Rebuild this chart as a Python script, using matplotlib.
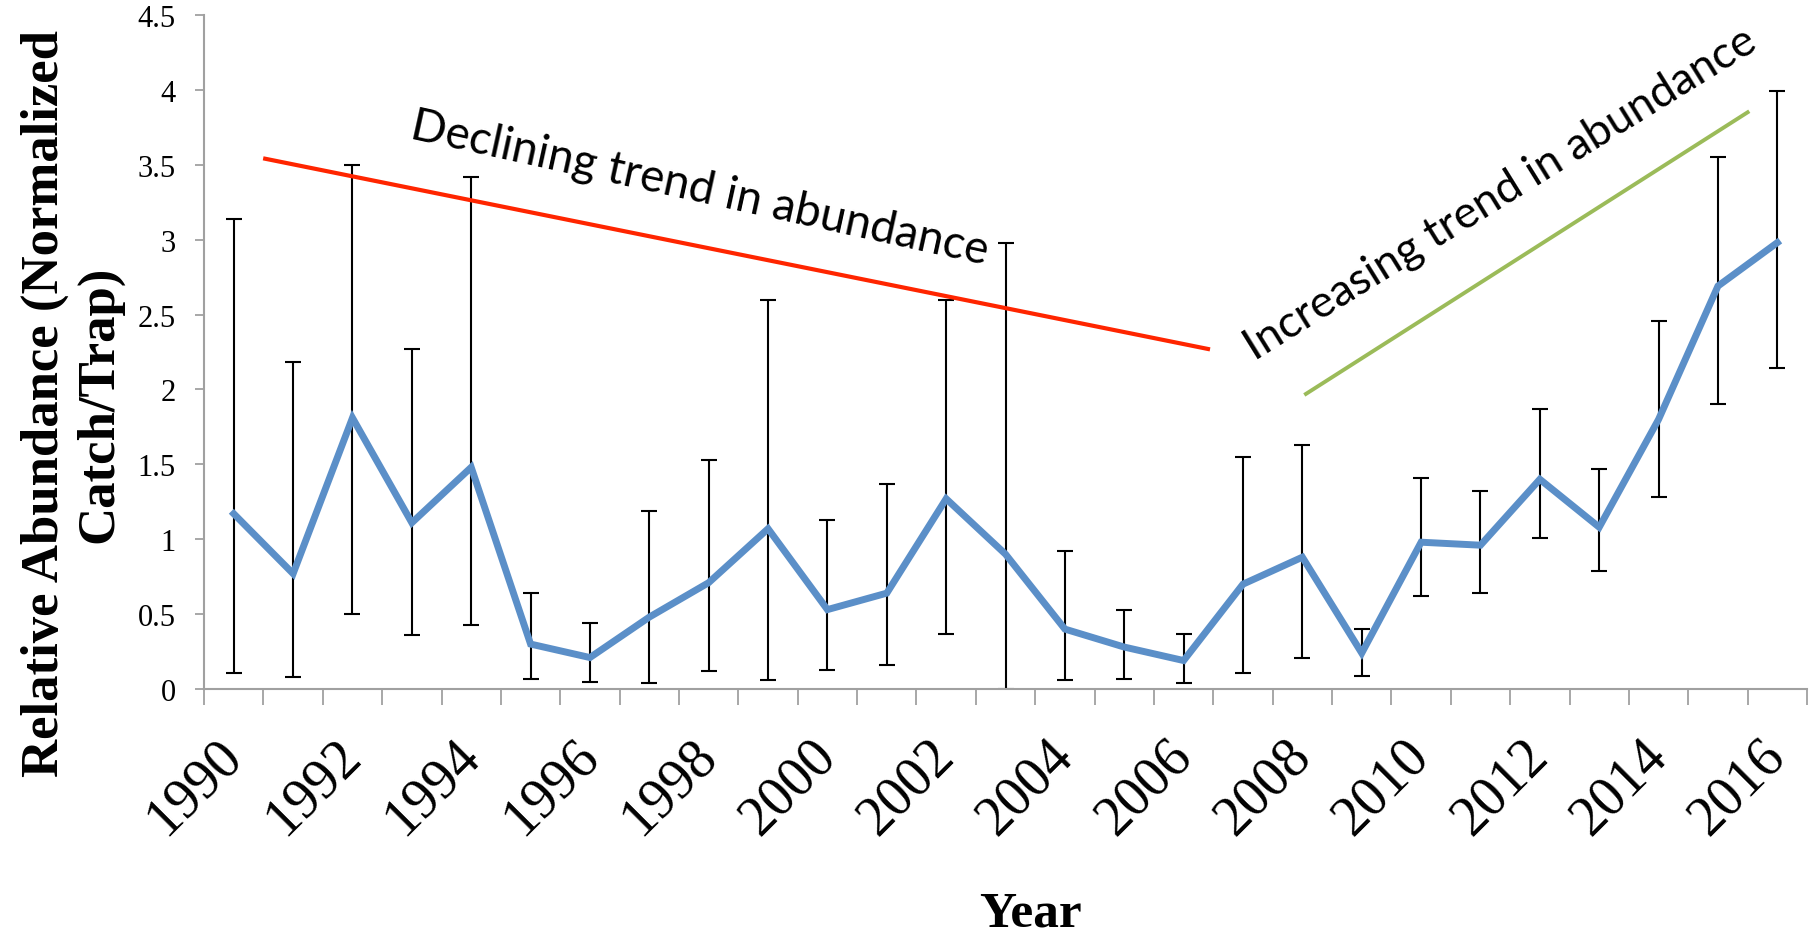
import numpy as np
import matplotlib
matplotlib.use("Agg")
from matplotlib import pyplot as plt
from matplotlib import transforms
from matplotlib.ticker import FixedLocator, FormatStrFormatter

# values
years = list(range(1990, 2017))
abundance = [1.17, 0.77, 1.81, 1.11, 1.48, 0.30, 0.21, 0.48, 0.71, 1.07,
             0.53, 0.64, 1.27, 0.90, 0.40, 0.28, 0.19, 0.70, 0.88, 0.24,
             0.98, 0.96, 1.40, 1.08, 1.80, 2.69, 2.98]
err_upper = [3.14, 2.18, 3.50, 2.27, 3.42, 0.64, 0.44, 1.19, 1.53, 2.60,
             1.13, 1.37, 2.60, 2.98, 0.92, 0.53, 0.37, 1.55, 1.63, 0.40,
             1.41, 1.32, 1.87, 1.47, 2.46, 3.55, 3.99]
err_lower = [0.11, 0.08, 0.50, 0.36, 0.43, 0.07, 0.05, 0.04, 0.12, 0.06,
             0.13, 0.16, 0.37, 0.00, 0.06, 0.07, 0.04, 0.11, 0.21, 0.09,
             0.62, 0.64, 1.01, 0.79, 1.28, 1.90, 2.14]
tick_years = years[::2]

# hand drawn trend lines (category index, value)
decline_x = [0.53, 16.41]
decline_y = [3.54, 2.27]
increase_x = [18.06, 25.5]
increase_y = [1.97, 3.85]

plt.rcParams['font.family'] = ['Liberation Serif', 'DejaVu Serif']

fig = plt.figure(figsize=(18.17, 9.37), dpi=100)
ax = fig.add_axes([0.1123, 0.2636, 0.8822, 0.7194])

x = np.arange(len(years))
mean = np.array(abundance)
yerr = [mean - np.array(err_lower), np.array(err_upper) - mean]

ax.errorbar(x, mean, yerr=yerr, fmt='none', ecolor='black', elinewidth=1.5,
            capsize=5.8, capthick=1.5, zorder=2)
ax.plot(x, mean, color='#5B8FC8', lw=5, solid_joinstyle='miter', zorder=3)

ax.plot(decline_x, decline_y, color='#FF2500', lw=3, zorder=4)
ax.plot(increase_x, increase_y, color='#9BBB59', lw=2.8, zorder=4)

ax.text(7.80, 3.26, 'Declining trend in abundance', family='Lato', fontsize=33,
        rotation=-12.4, rotation_mode='anchor', ha='center', va='baseline')
ax.text(21.45, 3.24, 'Increasing trend in abundance', family='Lato', fontsize=32.5,
        rotation=31.8, rotation_mode='anchor', ha='center', va='baseline')

ax.set_xlim(-0.5, len(years) - 0.5)
ax.set_ylim(0, 4.5)
ax.set_yticks(np.arange(0, 4.51, 0.5))
ax.yaxis.set_major_formatter(FormatStrFormatter('%g'))

ax.set_xticks(x[::2])
ax.set_xticklabels([str(y) for y in tick_years], rotation=45, ha='right',
                   va='center', rotation_mode='anchor')
shift = transforms.ScaledTranslation(5 / 100, 0, fig.dpi_scale_trans)
for lab in ax.get_xticklabels():
    lab.set_transform(lab.get_transform() + shift)
ax.xaxis.set_minor_locator(FixedLocator(np.arange(-0.5, len(years), 1.0)))
ax.tick_params(axis='x', which='major', length=0, pad=42, labelsize=40)
ax.tick_params(axis='x', which='minor', length=11.5, width=1.3, color='#A0A0A0',
               direction='out')
ax.tick_params(axis='y', length=6.5, width=1.3, color='#A0A0A0', pad=14,
               labelsize=22)

for s in ['top', 'right']:
    ax.spines[s].set_visible(False)
for s in ['left', 'bottom']:
    ax.spines[s].set_color('#A0A0A0')
    ax.spines[s].set_linewidth(1.5)

fig.text(0.0396, 0.569, 'Relative Abundance (Normalized\nCatch/Trap)',
         rotation=90, ha='center', va='center', multialignment='center',
         fontsize=38, fontweight='bold', linespacing=1.15)
fig.text(0.567, 0.011, 'Year', ha='center', va='baseline', fontsize=37,
         fontweight='bold')

fig.savefig('out.png', dpi=100)
